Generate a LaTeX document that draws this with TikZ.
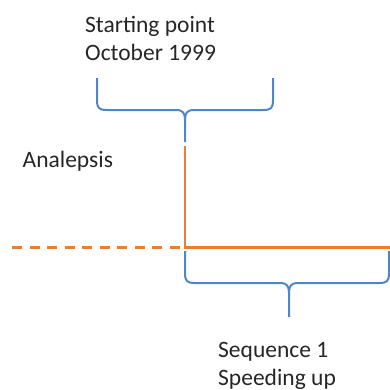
\documentclass[tikz,border=0pt]{standalone}
\usepackage{fontspec}
\setmainfont{Carlito}
\definecolor{lineorange}{HTML}{ED7D31}
\definecolor{braceblue}{HTML}{4F86C6}
\tikzset{
  timeline/.style={draw=lineorange, line width=2.2pt},
  bracepath/.style={draw=braceblue, line width=2pt, line join=round},
  labeltext/.style={inner sep=0pt, align=left, text=black!85,
    font=\fontsize{23.5}{27.7}\selectfont}
}
\begin{document}
\begin{tikzpicture}[x=1pt,y=-1pt]
  \useasboundingbox (0,0) rectangle (390,389);
  % time line
  \coordinate (past) at (12,247.5);
  \coordinate (start) at (185,247.5);
  \coordinate (now) at (390,247.5);
  \coordinate (jump) at (185,146);
  \draw[timeline, dash pattern=on 10pt off 7.5pt] (past) -- (start);
  \draw[timeline] (jump) -- (start) -- (now);
  % top brace
  \draw[bracepath] (97,78) -- (97,100) .. controls (97,108) and (99,110) .. (107,110)
    -- (176,110) .. controls (183,110) and (185,113) .. (185,120) -- (185,142);
  \draw[bracepath] (273,78) -- (273,100) .. controls (273,108) and (271,110) .. (263,110)
    -- (194,110) .. controls (187,110) and (185,113) .. (185,120);
  % bottom brace
  \draw[bracepath] (185,251) -- (185,273) .. controls (185,281) and (187,283) .. (195,283)
    -- (280,283) .. controls (287,283) and (289,286) .. (289,293) -- (289,317);
  \draw[bracepath] (389,251) -- (389,273) .. controls (389,281) and (387,283) .. (379,283)
    -- (298,283) .. controls (291,283) and (289,286) .. (289,293);
  % labels (base = last line)
  \node[labeltext, anchor=base west] (analepsis) at (22.5,167.7) {Analepsis};
  \node[labeltext, anchor=base west] (startpt) at (85,60.4) {Starting point\\October 1999};
  \node[labeltext, anchor=base west] (seq) at (218,385) {Sequence 1\\Speeding up};
\end{tikzpicture}
\end{document}
